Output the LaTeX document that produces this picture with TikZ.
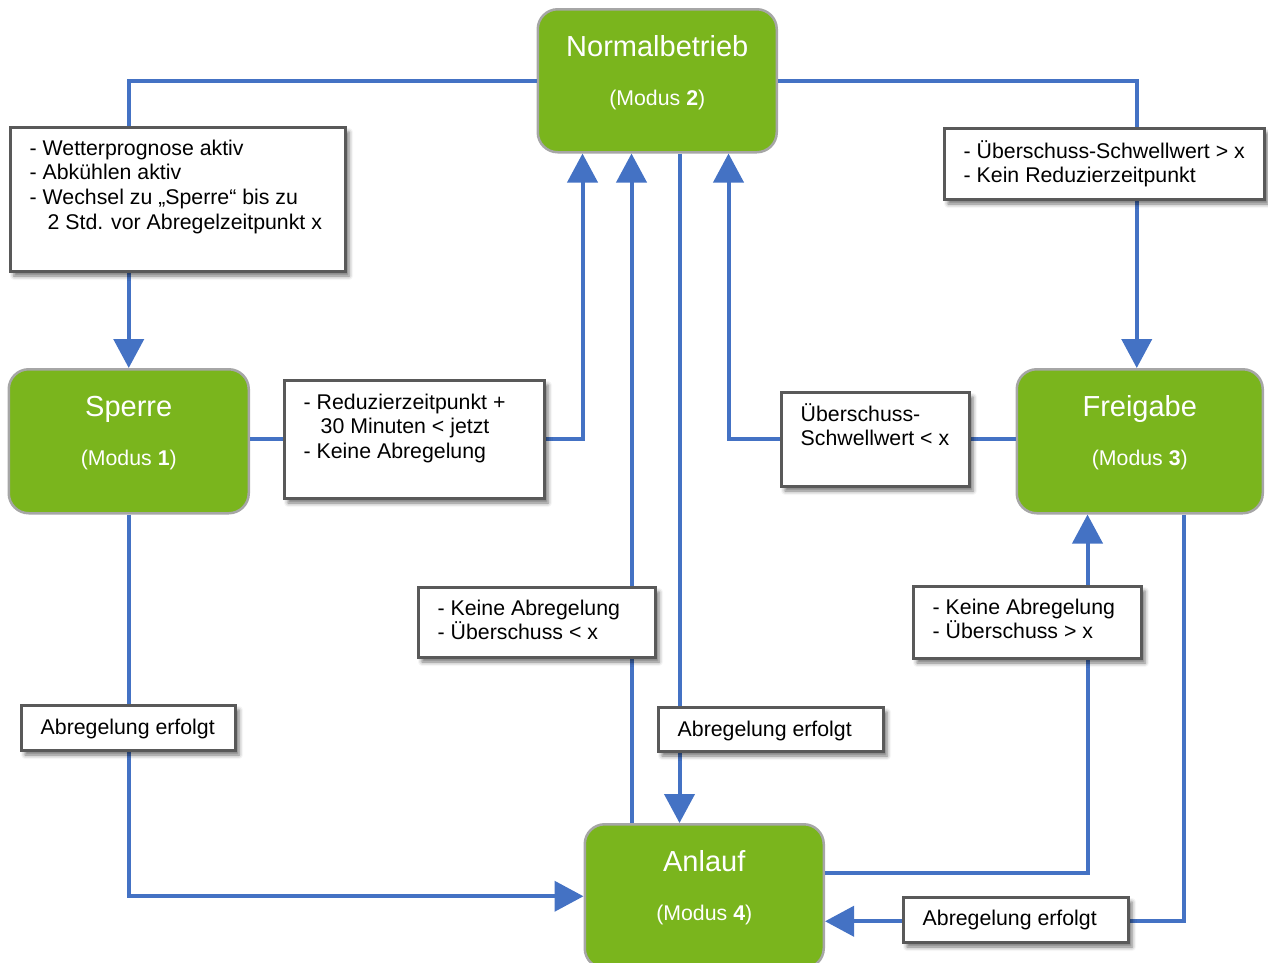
\documentclass[tikz,border=0pt]{standalone}
\usepackage{fontspec}
\setmainfont{Liberation Sans}
\usetikzlibrary{arrows.meta,calc,shadows.blur}
\definecolor{lgreen}{HTML}{7AB51D}
\definecolor{lborder}{HTML}{A6A6A6}
\definecolor{lblue}{HTML}{4472C4}
\definecolor{bborder}{HTML}{595959}
\begin{document}
\begin{tikzpicture}[x=1pt,y=-1pt,
  state/.style={draw=lborder, line width=2.5pt, fill=lgreen, rounded corners=20pt, inner sep=0pt, anchor=north west},
  title/.style={text=white, font=\fontsize{29}{34}\selectfont, inner sep=0pt, anchor=base},
  modus/.style={text=white, font=\fontsize{21.3}{25}\selectfont, inner sep=0pt, anchor=base},
  box/.style={draw=bborder, line width=3pt, fill=white, inner sep=0pt, anchor=north west,
    blur shadow={shadow xshift=4pt, shadow yshift=-5pt, shadow blur radius=4pt, shadow opacity=55}},
  txt/.style={font=\fontsize{21.3}{24.7}\selectfont, align=left, inner sep=0pt, anchor=base west},
  conn/.style={draw=lblue, line width=4pt},
  arr/.style={conn, -{Triangle[width=30pt,length=29pt]}}]
\useasboundingbox (0,0) rectangle (1268,962);

% states
\node[state, minimum width=239pt, minimum height=143pt] (normal) at (536.5,8) {};
\node[state, minimum width=240pt, minimum height=144pt] (sperre) at (7.5,368) {};
\node[state, minimum width=246pt, minimum height=144pt] (freigabe) at (1015.5,368) {};
\node[state, minimum width=239pt, minimum height=144pt] (anlauf) at (583.5,823) {};

\node[title] (normal-t) at ($(normal.north)+(0,48.5)$) {Normalbetrieb};
\node[modus] (normal-m) at ($(normal.north)+(0,97)$) {(Modus \textbf{2})};
\node[title] (sperre-t) at ($(sperre.north)+(0,48.5)$) {Sperre};
\node[modus] (sperre-m) at ($(sperre.north)+(0,97)$) {(Modus \textbf{1})};
\node[title] (freigabe-t) at ($(freigabe.north)+(0,48.5)$) {Freigabe};
\node[modus] (freigabe-m) at ($(freigabe.north)+(0,97)$) {(Modus \textbf{3})};
\node[title] (anlauf-t) at ($(anlauf.north)+(0,48.5)$) {Anlauf};
\node[modus] (anlauf-m) at ($(anlauf.north)+(0,97)$) {(Modus \textbf{4})};

% connectors
\draw[arr] (normal.west) -| (sperre.north);
\draw[arr] (normal.east) -| ($(freigabe.north)+(-3,0)$);
\coordinate (n3) at ($(normal.south west)+(46,0)$);
\draw[arr] ($(sperre.east)+(0,-2)$) -| (n3);
\coordinate (n4) at ($(normal.south west)+(192,0)$);
\draw[arr] ($(freigabe.west)+(0,-2)$) -| (n4);
\coordinate (a5) at ($(anlauf.north west)+(48,0)$);
\draw[arr] (a5) -- (a5 |- normal.south);
\coordinate (n6) at ($(normal.south west)+(143,0)$);
\draw[arr] (n6) -- (n6 |- anlauf.north);
\draw[arr] (sperre.south) |- (anlauf.west);
\draw[arr] ($(anlauf.east)+(0,-23)$) -| ($(freigabe.south west)+(72,0)$);
\draw[arr] ($(freigabe.south west)+(168,0)$) |- ($(anlauf.east)+(0,25)$);

% condition boxes (text anchored at the baseline of its last line)
\node[box, minimum width=335pt, minimum height=144pt] (b1) at (8.5,125.5) {};
\node[txt] (b1t) at (29.5,229.1) {- Wetterprognose aktiv\\- Abkühlen aktiv\\- Wechsel zu „Sperre“ bis zu\\\hspace*{18pt}2 Std. vor Abregelzeitpunkt x};

\node[box, minimum width=320pt, minimum height=71pt] (b2) at (942.5,126.5) {};
\node[txt] (b2t) at (963.5,182.7) {- Überschuss-Schwellwert > x\\- Kein Reduzierzeitpunkt};

\node[box, minimum width=260pt, minimum height=118pt] (b3) at (282.5,378.5) {};
\node[txt] (b3t) at (303.5,458.4) {- Reduzierzeitpunkt +\\\hspace*{17pt}30 Minuten < jetzt\\- Keine Abregelung};

\node[box, minimum width=188pt, minimum height=94pt] (b4) at (779.5,390.5) {};
\node[txt] (b4t) at (800.5,445.7) {Überschuss-\\Schwellwert < x};

\node[box, minimum width=237pt, minimum height=70pt] (b5) at (416.5,585.5) {};
\node[txt] (b5t) at (437.5,639.7) {- Keine Abregelung\\- Überschuss < x};

\node[box, minimum width=225pt, minimum height=44pt] (b6) at (656.5,705.5) {};
\node[txt] (b6t) at (677.5,736) {Abregelung erfolgt};

\node[box, minimum width=214pt, minimum height=45pt] (b7) at (19.5,703.5) {};
\node[txt] (b7t) at (40.5,734) {Abregelung erfolgt};

\node[box, minimum width=228pt, minimum height=72pt] (b8) at (911.5,584.5) {};
\node[txt] (b8t) at (932.5,638.7) {- Keine Abregelung\\- Überschuss > x};

\node[box, minimum width=225pt, minimum height=45pt] (b9) at (901.5,895.5) {};
\node[txt] (b9t) at (922.5,925) {Abregelung erfolgt};
\end{tikzpicture}
\end{document}
